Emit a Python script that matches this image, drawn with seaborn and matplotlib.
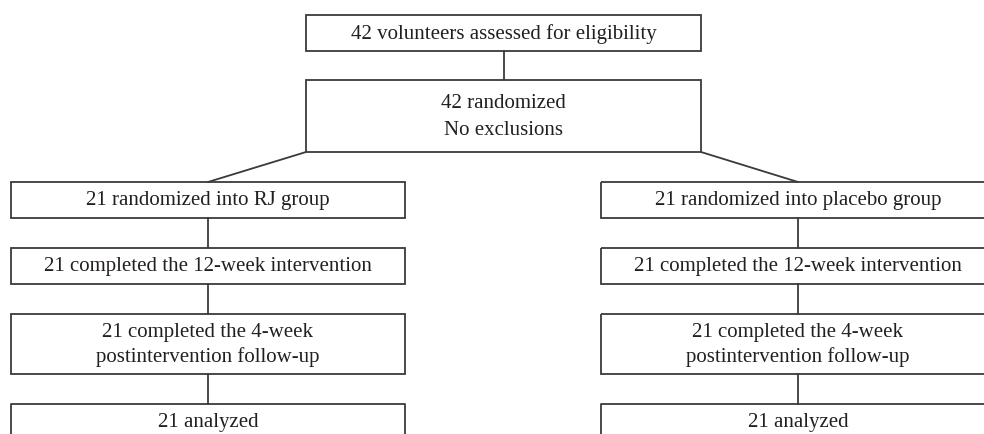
import matplotlib
matplotlib.use('Agg')
import matplotlib.pyplot as plt
from matplotlib.patches import Rectangle
import pandas as pd
import seaborn as sns

# Flowchart content
top_labels = ["42 volunteers assessed for eligibility", "42 randomized\nNo exclusions"]
group_names = ["RJ", "placebo"]
step_labels = [
    "21 randomized into {} group",
    "21 completed the 12-week intervention",
    "21 completed the 4-week\npostintervention follow-up",
    "21 analyzed",
]

sns.set_theme(style="white")
plt.rcParams['font.family'] = ['Liberation Serif', 'DejaVu Serif']

W, H = 984, 434
fig = plt.figure(figsize=(W / 100, H / 100), dpi=100)
ax = fig.add_axes([0, 0, 1, 1])

edge = '#3a3a3a'
fs = 15


def box(x0, y0, x1, y1, text, ls=1.2, bottom=True):
    if bottom:
        ax.add_patch(Rectangle((x0, y0), x1 - x0, y1 - y0, fill=False,
                               edgecolor=edge, linewidth=1.3))
    else:
        ax.plot([x0, x0, x1, x1], [y1, y0, y0, y1], color=edge, linewidth=1.3)
    ax.text((x0 + x1) / 2, (y0 + y1) / 2 + 1, text, ha='center', va='center',
            fontsize=fs, color='#231f20', linespacing=ls)


# top boxes
box(306, 15, 701, 51, top_labels[0])
box(306, 80, 701, 152, top_labels[1], ls=1.6)

# column layout
col_x = [(11, 405), (601, 995)]
rows = [(182, 218), (248, 284), (314, 374), (404, 440)]

edges = [
    (0, 503.5, 51, 503.5, 80),
    (1, 306, 152, 208, 182),
    (2, 701, 152, 798, 182),
]
k = 3
for gi, g in enumerate(group_names):
    x0, x1 = col_x[gi]
    cx = (x0 + x1) / 2
    for ri, lab in enumerate(step_labels):
        y0, y1 = rows[ri]
        box(x0, y0, x1, y1, lab.format(g), ls=1.3, bottom=(ri < 3))
        if ri > 0:
            edges.append((k, cx, rows[ri - 1][1], cx, y0))
            k += 1

df = pd.DataFrame(
    [(e[0], e[1], e[2]) for e in edges] + [(e[0], e[3], e[4]) for e in edges],
    columns=['edge', 'x', 'y'])
sns.lineplot(data=df, x='x', y='y', units='edge', estimator=None, sort=False,
             color=edge, linewidth=1.3, ax=ax)
ax.set_xlim(0, W)
ax.set_ylim(H, 0)
ax.axis('off')

fig.savefig('out.png', dpi=100, facecolor='white')
